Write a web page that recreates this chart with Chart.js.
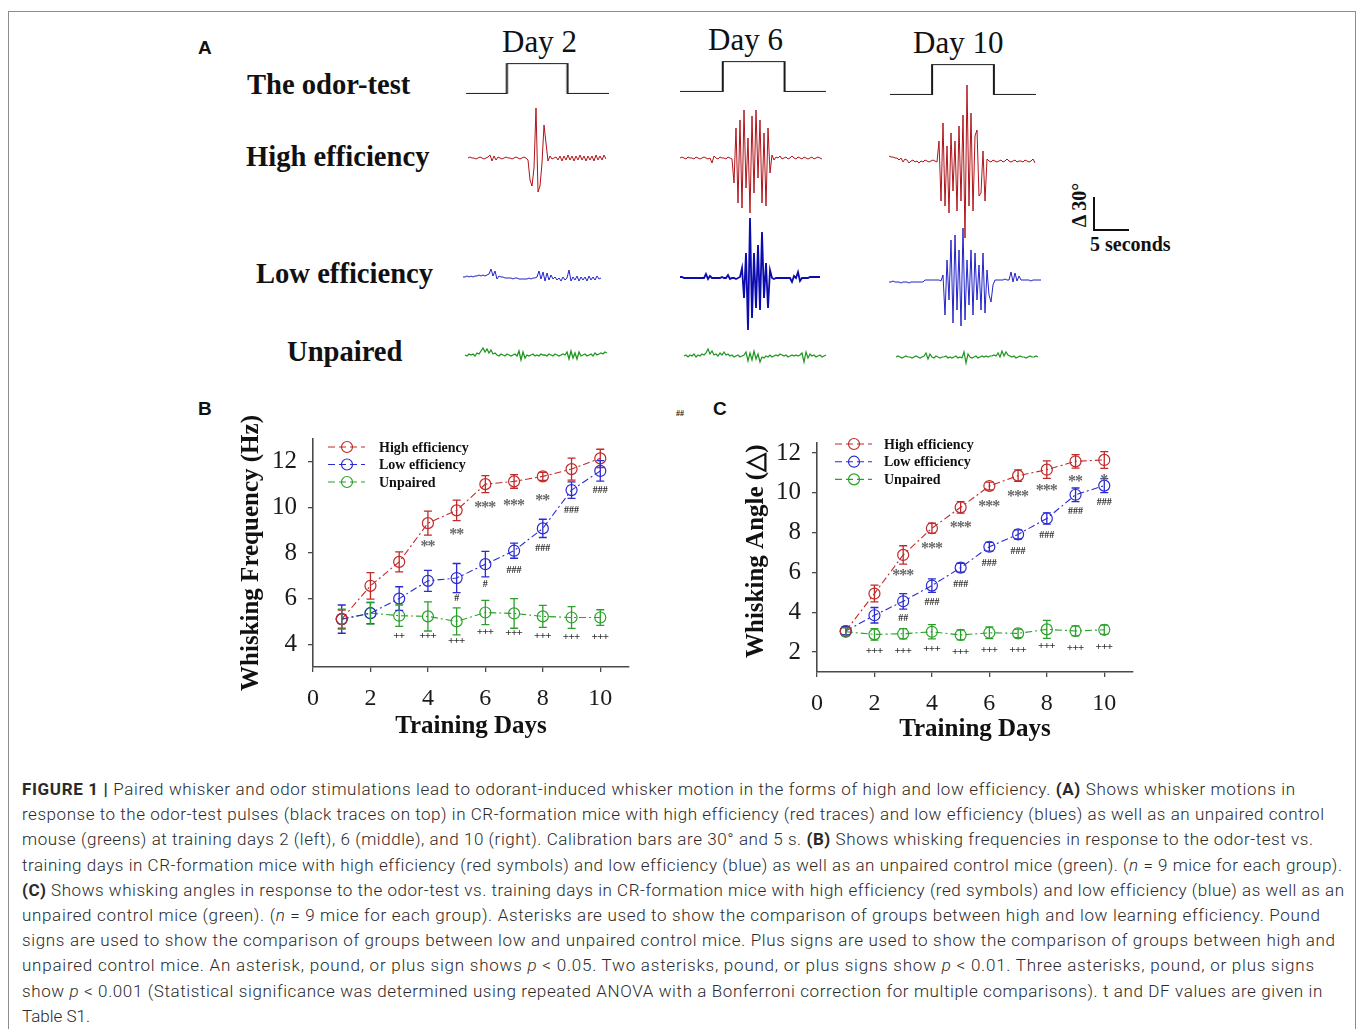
<!DOCTYPE html>
<html><head><meta charset="utf-8">
<script src="https://cdn.jsdelivr.net/npm/chart.js@4.4.1/dist/chart.umd.min.js"></script>
<style>
html,body{margin:0;padding:0;background:#fff;}
#stage{position:relative;width:1360px;height:1029px;overflow:hidden;background:#fff;}
#frame{position:absolute;left:8px;top:11px;width:1348px;height:1060px;border:1px solid #8c8c8c;box-sizing:border-box;}
.abs{position:absolute;white-space:nowrap;}
.ser{font-family:"Liberation Serif","Times New Roman",serif;color:#111;}
.lbl{font-weight:bold;font-size:28.6px;line-height:28px;}
.day{font-size:31px;line-height:31px;}
.plet{font-family:"Liberation Sans",Arial,sans-serif;font-weight:bold;font-size:19px;line-height:19px;color:#111;}
canvas{position:absolute;}
#caption{position:absolute;left:22px;top:777px;font-family:Roboto,"Liberation Sans",sans-serif;font-weight:300;font-size:17px;line-height:25.2px;color:#2a2a2a;}
#caption .ln{white-space:nowrap;height:25.2px;}
#caption b{font-weight:700;}
.cal{position:absolute;background:#111;}
</style>
</head><body>
<div id="stage">
<div id="frame"></div>
<div class="abs plet" style="left:198px;top:38px;">A</div>
<div class="abs plet" style="left:198px;top:399px;">B</div>
<div class="abs plet" style="left:713px;top:399px;">C</div>
<div class="abs ser" style="left:676px;top:409px;font-size:8px;font-weight:bold;">##</div>

<div class="abs ser lbl" style="left:247px;top:70.5px;">The odor-test</div>
<div class="abs ser lbl" style="left:246px;top:143.3px;">High efficiency</div>
<div class="abs ser lbl" style="left:256px;top:259.6px;">Low efficiency</div>
<div class="abs ser lbl" style="left:287px;top:338.3px;">Unpaired</div>

<div class="abs ser day" style="left:502px;top:26px;">Day 2</div>
<div class="abs ser day" style="left:708px;top:24px;">Day 6</div>
<div class="abs ser day" style="left:913px;top:27.3px;">Day 10</div>

<div class="cal" style="left:1093px;top:197px;width:2px;height:34px;"></div>
<div class="cal" style="left:1093px;top:229px;width:36px;height:2px;"></div>
<div class="abs ser" style="left:1053px;top:195px;width:52px;text-align:center;font-size:20px;line-height:20px;font-weight:bold;transform:rotate(-90deg);">Δ 30°</div>
<div class="abs ser" style="left:1090px;top:234px;font-size:20px;line-height:20px;font-weight:bold;">5 seconds</div>

<div id="caption">
<div class="ln"><span><b>FIGURE 1 |</b> Paired whisker and odor stimulations lead to odorant-induced whisker motion in the forms of high and low efficiency. <b>(A)</b> Shows whisker motions in</span></div>
<div class="ln"><span>response to the odor-test pulses (black traces on top) in CR-formation mice with high efficiency (red traces) and low efficiency (blues) as well as an unpaired control</span></div>
<div class="ln"><span>mouse (greens) at training days 2 (left), 6 (middle), and 10 (right). Calibration bars are 30° and 5 s. <b>(B)</b> Shows whisking frequencies in response to the odor-test vs.</span></div>
<div class="ln"><span>training days in CR-formation mice with high efficiency (red symbols) and low efficiency (blue) as well as an unpaired control mice (green). (<i>n</i> = 9 mice for each group).</span></div>
<div class="ln"><span><b>(C)</b> Shows whisking angles in response to the odor-test vs. training days in CR-formation mice with high efficiency (red symbols) and low efficiency (blue) as well as an</span></div>
<div class="ln"><span>unpaired control mice (green). (<i>n</i> = 9 mice for each group). Asterisks are used to show the comparison of groups between high and low learning efficiency. Pound</span></div>
<div class="ln"><span>signs are used to show the comparison of groups between low and unpaired control mice. Plus signs are used to show the comparison of groups between high and</span></div>
<div class="ln"><span>unpaired control mice. An asterisk, pound, or plus sign shows <i>p</i> &lt; 0.05. Two asterisks, pound, or plus signs show <i>p</i> &lt; 0.01. Three asterisks, pound, or plus signs</span></div>
<div class="ln"><span>show <i>p</i> &lt; 0.001 (Statistical significance was determined using repeated ANOVA with a Bonferroni correction for multiple comparisons). t and DF values are given in</span></div>
<div class="ln"><span>Table S1.</span></div>
</div>
</div>

<script>
// ================= DATA =================
// Panel B / C: training days and series
const days = [1, 2, 3, 4, 5, 6, 7, 8, 9, 10];
const xTickValues = [0, 2, 4, 6, 8, 10];
const freqTickValues = [4, 6, 8, 10, 12];
const angleTickValues = [2, 4, 6, 8, 10, 12];
const seriesNames = ['High efficiency', 'Low efficiency', 'Unpaired'];

const freqHigh    = [5.10, 6.56, 7.61, 9.31, 9.87, 11.02, 11.14, 11.36, 11.68, 12.15];
const freqHighErr = [0.40, 0.58, 0.44, 0.53, 0.45, 0.37, 0.30, 0.18, 0.48, 0.40];
const freqLow     = [5.10, 5.36, 6.00, 6.78, 6.90, 7.51, 8.10, 9.08, 10.76, 11.60];
const freqLowErr  = [0.62, 0.46, 0.52, 0.46, 0.64, 0.56, 0.33, 0.40, 0.36, 0.45];
const freqUnp     = [5.10, 5.36, 5.25, 5.22, 5.00, 5.39, 5.35, 5.22, 5.17, 5.17];
const freqUnpErr  = [0.44, 0.48, 0.47, 0.64, 0.59, 0.53, 0.65, 0.48, 0.48, 0.34];

const angleHigh    = [3.06, 4.94, 6.88, 8.22, 9.27, 10.34, 10.86, 11.16, 11.58, 11.65];
const angleHighErr = [0.20, 0.42, 0.46, 0.25, 0.29, 0.20, 0.29, 0.44, 0.34, 0.42];
const angleLow     = [3.06, 3.85, 4.55, 5.34, 6.24, 7.29, 7.91, 8.71, 9.90, 10.36];
const angleLowErr  = [0.20, 0.39, 0.39, 0.34, 0.22, 0.22, 0.23, 0.28, 0.34, 0.35];
const angleUnp     = [3.02, 2.89, 2.92, 3.02, 2.86, 2.97, 2.94, 3.14, 3.06, 3.12];
const angleUnpErr  = [0.20, 0.29, 0.26, 0.36, 0.25, 0.29, 0.21, 0.45, 0.25, 0.23];

// significance marks (high vs low: *, low vs unpaired: #, high vs unpaired: +)
const freqStars  = ['', '', '', '**', '**', '***', '***', '**', '', ''];
const freqPounds = ['', '', '', '', '#', '#', '###', '###', '###', '###'];
const freqPlus   = ['', '', '++', '+++', '+++', '+++', '+++', '+++', '+++', '+++'];
const angleStars  = ['', '', '***', '***', '***', '***', '***', '***', '**', '*'];
const anglePounds = ['', '', '##', '###', '###', '###', '###', '###', '###', '###'];
const anglePlus   = ['', '+++', '+++', '+++', '+++', '+++', '+++', '+++', '+++', '+++'];

// Panel A: odor-test pulse timing (seconds) for Day 2, Day 6, Day 10
const odorDays = ['Day 2', 'Day 6', 'Day 10'];
const odorOn   = [6.0, 6.3, 6.2];
const odorOff  = [14.9, 15.4, 15.3];
const traceDur = [21.0, 21.5, 21.5];

// Panel A: whisker angle traces (deg, relative to baseline, evenly sampled)
const traceHighDay2 = [0,1,0,0,-1,0,1,0,-1,0,1, 3,-3,2,-2,1, 0,-1,0,1,0,0,-1,0,1,0,-1,0,1,0,-2,
  -22,-28,-10,50,-34,-28,-5,33,15, -3,2,-1,0,1,
  -2,2,-3,2,-2,3,-2,2,-3,2,-2,3,-2,2,-3,2,-2,2,-3,3,-2,2,-2,3,-1];
const traceLowDay2 = [1,1,2,1,2,1,2,2,3,2,3,2,3,4, 9,2,7,-1,
  2,1,1,0,0,0,0,-1,0,0,-1,-1,-1,-1,-1,0,-1,0,0,1,
  7,-1,6,-3,5,-2,3,
  -1,1,-2,0,-3,1,-2,0,8,-3,1,-2,2,-3,1,-2,1,-3,2,-2,1,-2,2,-1,0];
const traceUnpDay2 = [0,-1,1,0,1,-1,2,1, 4,7,3,6,2,5,1,2, 0,-1,1,0,-1,1,0,-1,0,1,-1,
  4,-5,3,-3, 0,-1,0,1,-1,0,-1,1,0,0,-1,1,0,-1,1,0,-1,0,1,0,
  3,-4,4,-3,2,-4,3,-1, 0,1,-1,0,1,-1,2,0,1,2,1,3,2];

const traceHighDay6 = [0,1,0,-1,1,0,0,-1,1,0,-1,0,1,0,-1,0, -5,2, 0,-1,1,0,0,-1,1,0,-1,
  -25,30,-45,38,-50,48,-30,20,-55,42,-35,48,-20,38,-45,25,-48,30,-15,
  3,-2,1,0,2,-1,0,1,-1,0,2,0,-1,1,0,-1,1,0,-1,0,1,-1,0,1,0,-1];
const traceLowDay6 = [1,1,0,0,0,0,0,0,0,0,0,0,0, 4,-1,2, 0,0,0,0,0,1,0,0, 3,-1, 0,0,-1,0,1,
  10,-20,25,-52,60,-40,25,-30,33,-32,46,-20,15,-30,8,
  0,-1,0,0,0,0,0,0,0,0, -4,2,0,6,-3, 0,0,0,0,1,1,1,1,1,1];
const traceUnpDay6 = [0,1,-1,1,0,2,-1,1,0,2,1, 3,7,2,5,1, 2,0,3,1,4,1,2,0,1,-1,0,1,-1,0,1,
  4,-5,3,-4,5,-3,2,-6, -1,-2,0,-1,1,-1,0,1,0,2,1,0,1,-1,0,1,0,1,0,1,
  3,-6,4,-2,2, 0,1,-1,0,1,-1,0,1];

const traceHighDay10 = [5,4,4,3,3,1,3,-1,2,1,-2, 0,1,-1,0,-2,0,-1,1,0,-1,0,1,0,-1,
  20,-40,38,-45,15,-52,28,-30,20,-50,35,-40,46,-77,76,-45,48,-50,25,31,-35,-32,10,-40,
  2,0,-1,1,0,-1,0,1,-1,0,2,0,-1,0,1,-1,0,0,-1,1,0,-1,0,2,-2];
const traceLowDay10 = [-2,-2,-1,-2,-2,-2,-3,-2,-2,-2,-3,-2,-2,-2,-2,-2,-2,-2, 0,0,0,0,0,0,0,0,-1,
  5,-35,20,-20,40,-43,45,-30,30,-46,52,-40,20,-25,30,-35,27,-20,15,-30,27,-33,10,-15,-22,
  -5,0,0,0,0,0,1,0,0,8,-2,7,-1,4,0,0,0,0,0,-1,0,0,0,0,0];
const traceUnpDay10 = [0,1,0,-1,0,1,0,0,-1,0,1,0,-1,0,1, 4,-2,3, 0,-1,1,0,-1,0,0,1,-1,0,-1,0,1,-1,0,-1,
  5,-6,3, 0,-1,0,1,-1,0,1,0,1,0,1,1,2,1, 4,0,6,1,5,2, 1,0,1,-1,0,1,0,0,-1,0,1,0,0,1,0];

// ================= RENDERING =================
const SERIF = '"Liberation Serif", "Times New Roman", serif';
Chart.defaults.font.family = SERIF;
const stage = document.getElementById('stage');

function addCanvas(left, top, w, h) {
  const c = document.createElement('canvas');
  c.width = w; c.height = h;
  c.style.left = left + 'px'; c.style.top = top + 'px';
  c.style.width = w + 'px'; c.style.height = h + 'px';
  stage.appendChild(c);
  return c;
}
const quiet = { legend: { display: false }, tooltip: { enabled: false } };

// whisker traces (1 deg ~ 1 px, 2 px per sample)
function drawTrace(values, left, baseline, color, width) {
  const pad = 3, half = 85, step = 2;
  const w = (values.length - 1) * step;
  const c = addCanvas(left - pad, baseline - half - pad, w + 2 * pad, 2 * half + 2 * pad);
  new Chart(c, {
    type: 'line',
    data: { labels: values.map((v, i) => i),
      datasets: [{ data: values, borderColor: color, borderWidth: width, pointRadius: 0, tension: 0 }] },
    options: { responsive: false, animation: false, events: [], layout: { padding: pad },
      plugins: quiet,
      scales: { x: { display: false }, y: { display: false, min: -half, max: half } } }
  });
}

// odor-test pulse (step trace)
function drawOdor(k, left, top, bottom) {
  const pad = 3, pxPerSec = 6.8;
  const w = traceDur[k] * pxPerSec, h = bottom - top;
  const c = addCanvas(left - pad, top - pad, w + 2 * pad, h + 2 * pad);
  const pts = [
    { x: 0, y: 0 }, { x: odorOn[k], y: 0 }, { x: odorOn[k], y: 1 },
    { x: odorOff[k], y: 1 }, { x: odorOff[k], y: 0 }, { x: traceDur[k], y: 0 }];
  new Chart(c, {
    type: 'line',
    data: { datasets: [{ label: odorDays[k], data: pts, borderColor: '#1a1a1a', borderWidth: 2, pointRadius: 0, tension: 0 }] },
    options: { responsive: false, animation: false, events: [], layout: { padding: pad },
      plugins: quiet,
      scales: { x: { type: 'linear', display: false, min: 0, max: traceDur[k] },
                y: { display: false, min: 0, max: 1 } } }
  });
}

drawOdor(0, 466, 63, 93.5);
drawOdor(1, 680, 61, 91.5);
drawOdor(2, 890, 64, 94.5);

const RED_T = '#b0141a', BLUE_T = '#2323c8', BLUE_T2 = '#0b0bb0', GREEN_T = '#1c961c';
drawTrace(traceHighDay2, 468, 158, RED_T, 1);
drawTrace(traceLowDay2, 463, 278, BLUE_T, 1);
drawTrace(traceUnpDay2, 465, 355, GREEN_T, 1.3);
drawTrace(traceHighDay6, 680, 158, RED_T, 1);
drawTrace(traceLowDay6, 680, 278, BLUE_T2, 1.8);
drawTrace(traceUnpDay6, 684, 356, GREEN_T, 1.2);
drawTrace(traceHighDay10, 889, 161, RED_T, 1);
drawTrace(traceLowDay10, 889, 280, BLUE_T, 1);
drawTrace(traceUnpDay10, 896, 357, GREEN_T, 1.2);

// ---------- plugins for panels B and C ----------
const errorBarPlugin = {
  id: 'errorBars',
  afterDatasetsDraw(chart) {
    const ctx = chart.ctx, ys = chart.scales.y;
    chart.data.datasets.forEach((ds, i) => {
      const meta = chart.getDatasetMeta(i);
      ctx.save();
      ctx.strokeStyle = ds.borderColor; ctx.lineWidth = 1.3; ctx.setLineDash([]);
      meta.data.forEach((pt, j) => {
        const v = ds.data[j].y, e = ds.errors[j];
        const y1 = ys.getPixelForValue(v + e), y2 = ys.getPixelForValue(v - e);
        ctx.beginPath();
        ctx.moveTo(pt.x, y1); ctx.lineTo(pt.x, y2);
        ctx.moveTo(pt.x - 4, y1); ctx.lineTo(pt.x + 4, y1);
        ctx.moveTo(pt.x - 4, y2); ctx.lineTo(pt.x + 4, y2);
        ctx.stroke();
      });
      ctx.restore();
    });
  }
};

function drawSpaced(ctx, text, x, y, step) {
  const n = text.length, start = x - (n - 1) * step / 2;
  for (let k = 0; k < n; k++) ctx.fillText(text[k], start + k * step, y);
}

const sigPlugin = {
  id: 'sigMarks',
  afterDatasetsDraw(chart, args, o) {
    const ctx = chart.ctx;
    chart.data.datasets.forEach((ds, i) => {
      const meta = chart.getDatasetMeta(i);
      const st = o.styles[i];
      ctx.save();
      ctx.fillStyle = st.color; ctx.font = st.font;
      ctx.textAlign = 'center'; ctx.textBaseline = 'middle';
      ds.marks.forEach((m, j) => {
        if (!m) return;
        const p = meta.data[j];
        drawSpaced(ctx, m, p.x, p.y + o.offset + st.dy, st.step);
      });
      ctx.restore();
    });
  }
};

const legendPlugin = {
  id: 'seriesLegend',
  afterDraw(chart, args, o) {
    const ctx = chart.ctx, a = chart.chartArea;
    chart.data.datasets.forEach((ds, i) => {
      const y = a.top + o.top + i * o.gap, x0 = a.left + o.left;
      ctx.save();
      ctx.strokeStyle = ds.borderColor; ctx.lineWidth = 1.1;
      ctx.setLineDash([7, 4]);
      ctx.beginPath(); ctx.moveTo(x0, y); ctx.lineTo(x0 + 37, y); ctx.stroke();
      ctx.setLineDash([]);
      ctx.lineWidth = 1.2;
      ctx.beginPath(); ctx.arc(x0 + 19, y, 5.5, 0, Math.PI * 2); ctx.stroke();
      ctx.fillStyle = '#111'; ctx.font = 'bold 14px ' + SERIF;
      ctx.textAlign = 'left'; ctx.textBaseline = 'middle';
      ctx.fillText(ds.label, a.left + o.textLeft, y + 1);
      ctx.restore();
    });
  }
};

const COLORS = ['#c02a2a', '#2b2bd2', '#2ba02b'];

function makeGraph(g) {
  const c = addCanvas(g.left, g.top, g.w, g.h);
  const mk = (i, vals, errs, marks) => ({
    label: seriesNames[i],
    data: days.map((d, j) => ({ x: d, y: vals[j] })),
    errors: errs, marks: marks,
    borderColor: COLORS[i], backgroundColor: 'rgba(0,0,0,0)',
    borderWidth: 1.1, borderDash: [7, 3, 2, 3], tension: 0,
    pointRadius: 5.5, pointBorderWidth: 1.2, pointBorderColor: COLORS[i],
    pointBackgroundColor: 'rgba(0,0,0,0)'
  });
  const axisCommon = {
    border: { color: '#4a4a4a', width: 1.6 },
    grid: { drawOnChartArea: false, drawTicks: true, tickLength: 5, color: '#4a4a4a', lineWidth: 1.3 },
  };
  new Chart(c, {
    type: 'line',
    data: { datasets: [
      mk(0, g.high, g.highErr, g.stars),
      mk(1, g.low, g.lowErr, g.pounds),
      mk(2, g.unp, g.unpErr, g.plus)] },
    options: {
      responsive: false, animation: false, events: [],
      layout: { padding: { top: g.padTop, right: g.padRight, left: 0, bottom: 0 } },
      scales: {
        x: Object.assign({}, axisCommon, {
          type: 'linear', min: 0, max: 11,
          afterBuildTicks: s => { s.ticks = xTickValues.map(v => ({ value: v })); },
          afterFit: s => { s.height = g.xH; s.paddingLeft = 0; s.paddingRight = 0; },
          ticks: { autoSkip: false, maxRotation: 0, padding: g.xTickPad, color: '#1a1a1a', font: { size: 24 } },
          title: { display: true, text: 'Training Days', color: '#111',
                   font: { size: 25, weight: 'bold' }, padding: { top: 0, bottom: g.xTitlePad } }
        }),
        y: Object.assign({}, axisCommon, {
          type: 'linear', min: g.yMin, max: g.yMax,
          afterBuildTicks: s => { s.ticks = g.yTicks.map(v => ({ value: v })); },
          afterFit: s => { s.width = g.yW; s.paddingTop = 0; s.paddingBottom = 0; },
          ticks: { autoSkip: false, padding: 11, color: '#1a1a1a', font: { size: 25 } },
          title: { display: true, text: g.yTitle, color: '#111',
                   font: { size: 25, weight: 'bold' }, padding: { top: g.yTitlePad, bottom: 0 } }
        })
      },
      plugins: {
        legend: { display: false }, tooltip: { enabled: false },
        seriesLegend: g.legend,
        sigMarks: { offset: g.sigOffset, styles: [
          { color: '#686868', font: 'bold 16px ' + SERIF, step: 7, dy: 4 },
          { color: '#2e2e2e', font: 'bold 10px ' + SERIF, step: 5, dy: 0 },
          { color: '#2e2e2e', font: 'bold 11px ' + SERIF, step: 5.6, dy: 0 }] }
      }
    },
    plugins: [errorBarPlugin, sigPlugin, legendPlugin]
  });
}

makeGraph({
  left: 200, top: 400, w: 440, h: 350, padTop: 39, padRight: 11, yW: 113, xH: 83,
  xTickPad: 12, xTitlePad: 8, yTitlePad: 37, yMin: 3, yMax: 13, yTicks: freqTickValues,
  yTitle: 'Whisking Frequency (Hz)',
  high: freqHigh, highErr: freqHighErr, low: freqLow, lowErr: freqLowErr, unp: freqUnp, unpErr: freqUnpErr,
  stars: freqStars, pounds: freqPounds, plus: freqPlus, sigOffset: 20,
  legend: { top: 8, gap: 17.5, left: 15, textLeft: 66 }
});
makeGraph({
  left: 705, top: 420, w: 440, h: 330, padTop: 23, padRight: 12, yW: 112, xH: 78,
  xTickPad: 12, xTitlePad: 5, yTitlePad: 37, yMin: 1, yMax: 12.5, yTicks: angleTickValues,
  yTitle: '\u2002Whisking Angle (\u25B3)',
  high: angleHigh, highErr: angleHighErr, low: angleLow, lowErr: angleLowErr, unp: angleUnp, unpErr: angleUnpErr,
  stars: angleStars, pounds: anglePounds, plus: anglePlus, sigOffset: 17,
  legend: { top: 1, gap: 17.7, left: 18, textLeft: 67 }
});

// caption line fitting to the reference line ends
const captionRight = [1294, 1322, 1313, 1340, 1342, 1319, 1335, 1314, 1322, null];
document.querySelectorAll('#caption .ln span').forEach((el, i) => {
  const t = captionRight[i];
  if (!t) return;
  const r = el.getBoundingClientRect();
  const n = el.textContent.length;
  el.style.letterSpacing = ((t - r.right) / (n - 1)) + 'px';
});
</script>
</body></html>
